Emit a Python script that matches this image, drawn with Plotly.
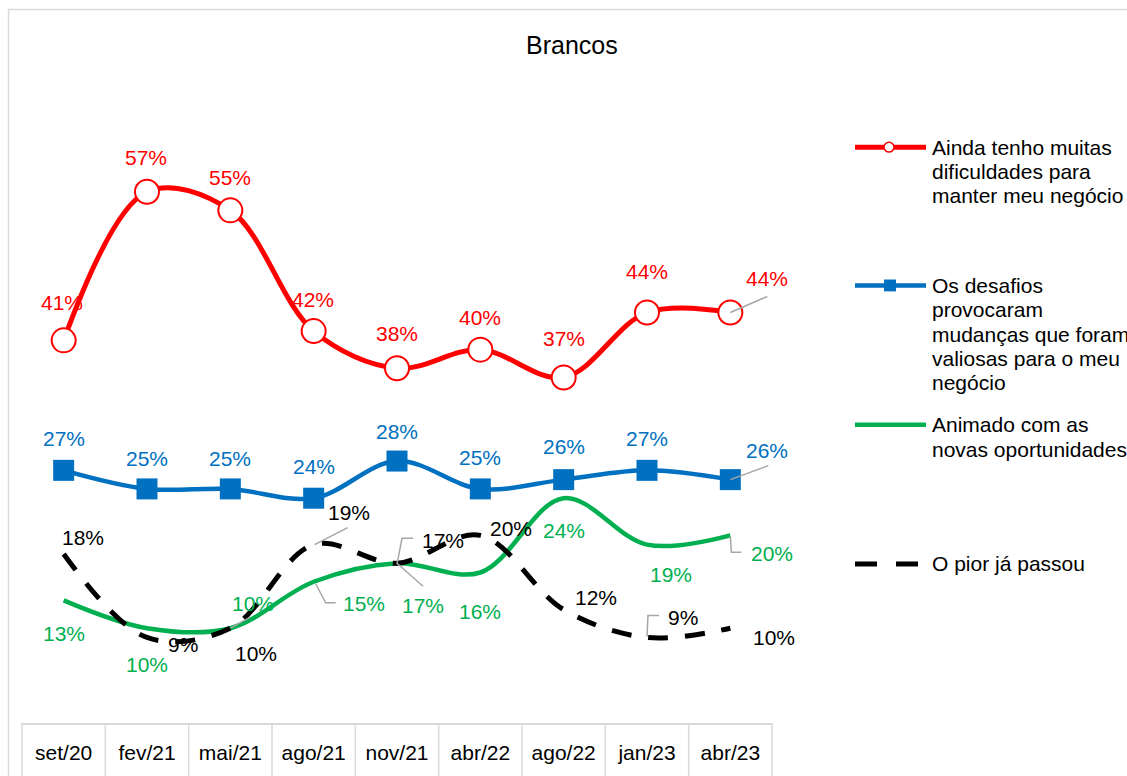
import plotly.graph_objects as go

# ---------------- data ----------------
categories = ["set/20", "fev/21", "mai/21", "ago/21", "nov/21", "abr/22", "ago/22", "jan/23", "abr/23"]

dificuldades = [41, 57, 55, 42, 38, 40, 37, 44, 44]
desafios = [27, 25, 25, 24, 28, 25, 26, 27, 26]
animado = [13, 10, 10, 15, 17, 16, 24, 19, 20]
pior_passou = [18, 9, 10, 19, 17, 20, 12, 9, 10]

series_names = [
    "Ainda tenho muitas dificuldades para manter meu negócio",
    "Os desafios provocaram mudanças que foram valiosas para o meu negócio",
    "Animado com as novas oportunidades",
    "O pior já passou",
]
legend_lines = [
    ["Ainda tenho muitas", "dificuldades para", "manter meu negócio"],
    ["Os desafios", "provocaram", "mudanças que foram", "valiosas para o meu", "negócio"],
    ["Animado com as", "novas oportunidades"],
    ["O pior já passou"],
]
title_text = "Brancos"

# ---------------- styles / layout ----------------
RED, BLUE, GREEN, BLACK = "#FF0000", "#0070C0", "#00B050", "#000000"
GRAY = "#A6A6A6"
BORDER = "#D9D9D9"
FONT = "Liberation Sans, Arial, sans-serif"
FS = 21

W, H = 1127, 776
PLOT_L, PLOT_R, PLOT_T, PLOT_B = 22, 772, 80, 731  # page pixels
ML, MT = PLOT_L, PLOT_T
MR, MB = W - PLOT_R, H - PLOT_B
PW = PLOT_R - PLOT_L
PH = PLOT_B - PLOT_T
Y_RANGE = [-0.21, 69.04]

def pxx(px):
    return (px - PLOT_L) / PW

def pxy(py):
    return (PLOT_B - py) / PH

# label offsets (dx, dy) in pixels relative to each point (dy positive = up)
red_off = [(-2, 38), (-1, 34), (0, 33), (-1, 32), (0, 35), (0, 32), (0, 39), (0, 41), (37, 34)]
blue_off = [(0, 32), (0, 30), (0, 30), (0, 32), (0, 30), (0, 31), (0, 33), (0, 32), (37, 29)]
green_off = [(0, -33), (0, -36), (23, 25), (50, -22), (26, -42), (0, -39), (0, -32), (24, -30), (42, -18)]
black_off = [(19, 16), (36, -7), (26, -25), (35, 32), (46, 23), (31, 7), (32, 12), (36, 20), (44, -9)]

# leader lines: (series values, index, pixel path relative to point; y up)
leaders = [
    (dificuldades, 8, [(0, 0), (37, 16)]),
    (desafios, 8, [(0, 0), (38, 14)]),
    (animado, 2, [(0, 0), (20, 11)]),
    (animado, 3, [(2, -2), (12, -21), (22, -21)]),
    (animado, 4, [(0, 0), (26, -23)]),
    (animado, 8, [(0, -1), (1, -17), (11, -17)]),
    (pior_passou, 3, [(1, 0), (34, 17)]),
    (pior_passou, 4, [(0, -1), (5, 25), (16, 25)]),
    (pior_passou, 7, [(0, 1), (1, 22), (12, 22)]),
]

fig = go.Figure()

fig.add_trace(go.Scatter(
    x=categories, y=dificuldades, name=series_names[0], mode="lines+markers",
    line=dict(color=RED, width=5, shape="spline", smoothing=1.0),
    marker=dict(symbol="circle", size=24, color="white", line=dict(color=RED, width=2)),
    hoverinfo="skip", showlegend=False,
))
fig.add_trace(go.Scatter(
    x=categories, y=desafios, name=series_names[1], mode="lines+markers",
    line=dict(color=BLUE, width=4.5, shape="spline", smoothing=1.0),
    marker=dict(symbol="square", size=21, color=BLUE, line=dict(color=BLUE, width=0)),
    hoverinfo="skip", showlegend=False,
))
fig.add_trace(go.Scatter(
    x=categories, y=animado, name=series_names[2], mode="lines",
    line=dict(color=GREEN, width=4.5, shape="spline", smoothing=1.0),
    hoverinfo="skip", showlegend=False,
))
fig.add_trace(go.Scatter(
    x=categories, y=pior_passou, name=series_names[3], mode="lines",
    line=dict(color=BLACK, width=5, shape="spline", smoothing=1.0, dash="20px,17px"),
    hoverinfo="skip", showlegend=False,
))

annotations = []
for vals, offs, col in [(dificuldades, red_off, RED), (desafios, blue_off, BLUE),
                        (animado, green_off, GREEN), (pior_passou, black_off, BLACK)]:
    for c, v, (dx, dy) in zip(categories, vals, offs):
        annotations.append(dict(
            x=c, y=v, xref="x", yref="y", text=f"{v}%", showarrow=False,
            xshift=dx, yshift=dy, xanchor="center", yanchor="middle",
            font=dict(family=FONT, size=FS, color=col),
        ))

shapes = []
for vals, i, pts in leaders:
    path = "M" + " L".join(f"{px},{py}" for px, py in pts)
    shapes.append(dict(
        type="path", xref="x", yref="y", xsizemode="pixel", ysizemode="pixel",
        xanchor=categories[i], yanchor=vals[i], path=path,
        line=dict(color=GRAY, width=1.5), layer="above",
    ))

# table below the plot (category boundaries)
n = len(categories)
for k in range(n + 1):
    shapes.append(dict(type="line", xref="paper", yref="paper", x0=k / n, x1=k / n,
                       y0=0, y1=-0.2, line=dict(color=BORDER, width=1.5), layer="below"))

# outer chart border
shapes.append(dict(type="rect", xref="paper", yref="paper",
                   x0=pxx(8.5), x1=pxx(1160), y0=pxy(800), y1=pxy(8.5),
                   line=dict(color=BORDER, width=1.5), fillcolor="rgba(0,0,0,0)", layer="below"))

# title
annotations.append(dict(x=pxx(572), y=pxy(45), xref="paper", yref="paper", text=title_text,
                        showarrow=False, xanchor="center", yanchor="middle",
                        font=dict(family=FONT, size=25, color="#000000")))

# manual legend
legend_y = [148, 288, 429, 570]
legend_cols = [RED, BLUE, GREEN, BLACK]
LX0, LX1, LTX = 855, 926, 931
LINE_H = 24.6
for k, (ly, col, lines) in enumerate(zip(legend_y, legend_cols, legend_lines)):
    if k == 3:
        for a, b in [(855, 877), (896, 918)]:
            shapes.append(dict(type="line", xref="paper", yref="paper",
                               x0=pxx(a), x1=pxx(b), y0=pxy(ly), y1=pxy(ly),
                               line=dict(color=col, width=5)))
    else:
        shapes.append(dict(type="line", xref="paper", yref="paper",
                           x0=pxx(LX0), x1=pxx(LX1), y0=pxy(ly), y1=pxy(ly),
                           line=dict(color=col, width=5 if k == 0 else 4.5)))
    if k == 0:
        r = 5
        shapes.append(dict(type="circle", xref="paper", yref="paper",
                           x0=pxx(889 - r), x1=pxx(889 + r), y0=pxy(ly + r), y1=pxy(ly - r),
                           fillcolor="white", line=dict(color=RED, width=1.5)))
    if k == 1:
        r = 6
        shapes.append(dict(type="rect", xref="paper", yref="paper",
                           x0=pxx(890 - r), x1=pxx(890 + r), y0=pxy(ly + r), y1=pxy(ly - r),
                           fillcolor=BLUE, line=dict(color=BLUE, width=0)))
    for j, t in enumerate(lines):
        annotations.append(dict(x=pxx(LTX), y=pxy(ly + j * LINE_H), xref="paper", yref="paper",
                                text=t, showarrow=False, xanchor="left", yanchor="middle",
                                xshift=-1, font=dict(family=FONT, size=FS, color="#000000")))

fig.update_layout(
    width=W, height=H,
    margin=dict(l=ML, r=MR, t=MT, b=MB, pad=0),
    paper_bgcolor="white", plot_bgcolor="white",
    font=dict(family=FONT, size=FS, color="#000000"),
    showlegend=False,
    xaxis=dict(type="category", categoryorder="array", categoryarray=categories,
               range=[-0.5, n - 0.5], showgrid=False, zeroline=False,
               showline=True, linecolor=BORDER, linewidth=1.5, ticks="",
               tickfont=dict(family=FONT, size=FS, color="#000000"),
               ticklabelstandoff=10, fixedrange=True),
    yaxis=dict(range=Y_RANGE, visible=False, fixedrange=True),
    annotations=annotations,
    shapes=shapes,
)

fig.write_html(
    "out.html",
    config={"displayModeBar": False},
    post_script="document.body.style.margin='0';document.documentElement.style.overflow='hidden';document.body.style.overflow='hidden';",
)
